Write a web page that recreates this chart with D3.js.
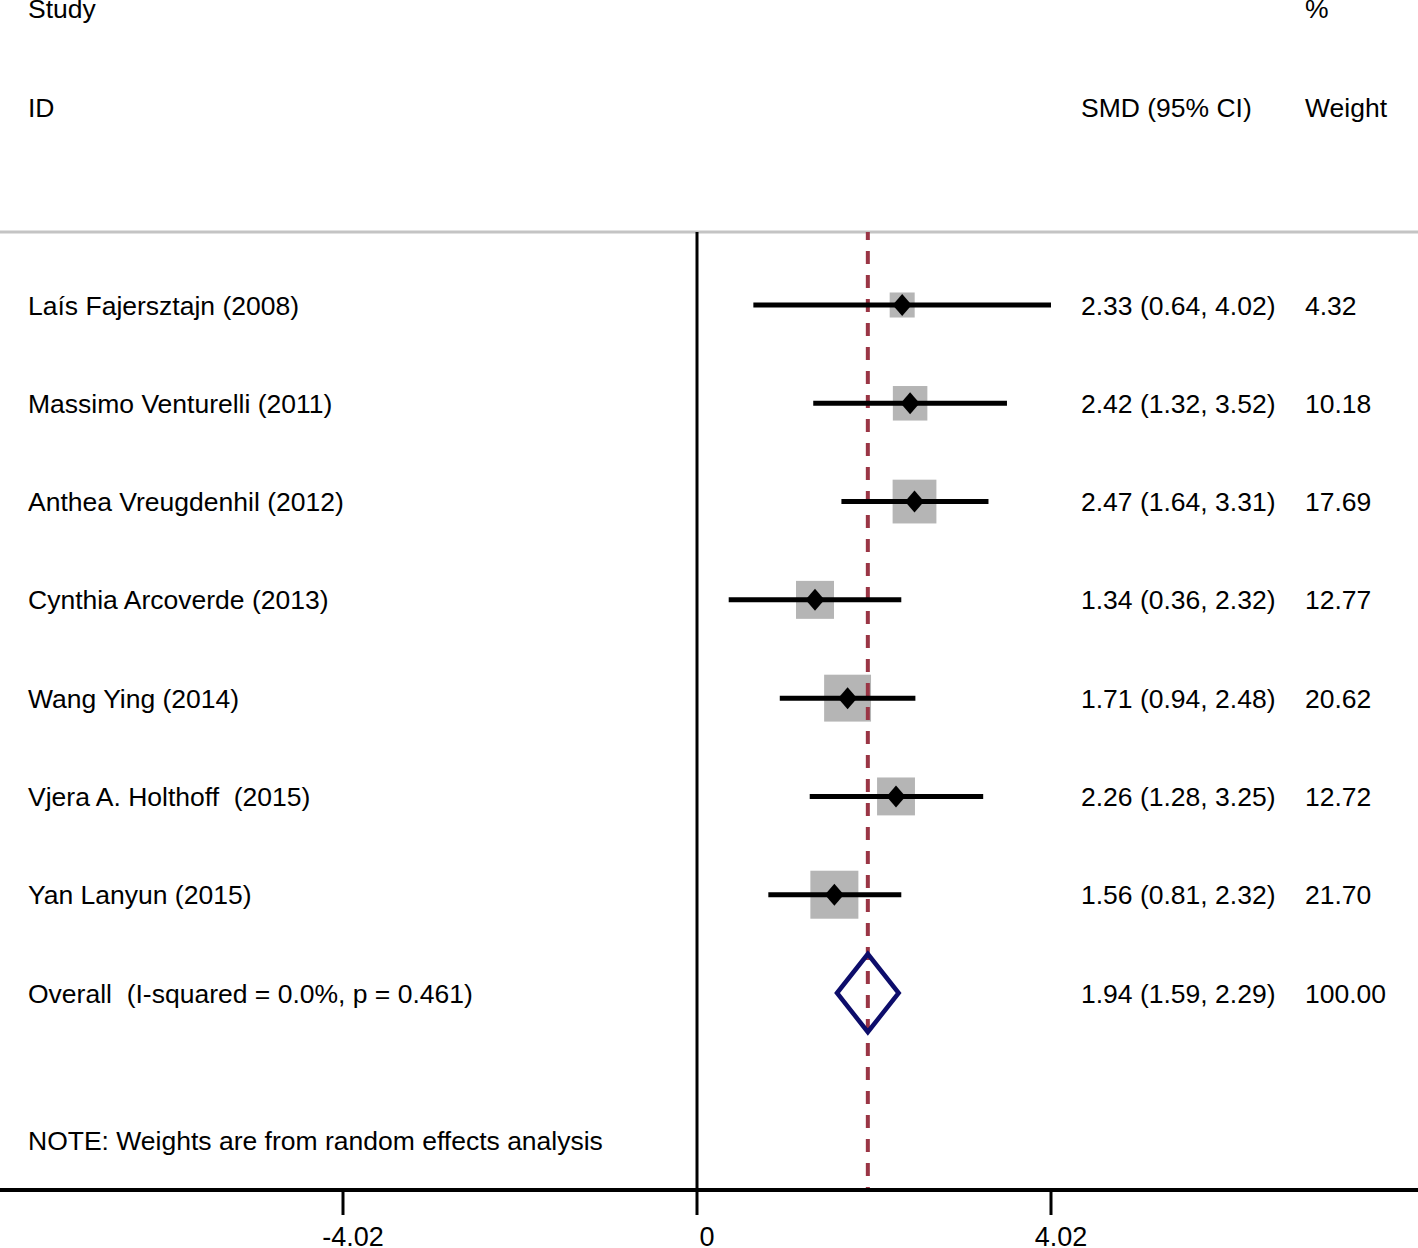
<!DOCTYPE html>
<html>
<head>
<meta charset="utf-8">
<script src="https://cdn.jsdelivr.net/npm/d3@7"></script>
<style>
  html, body { margin: 0; padding: 0; background: #fff; }
  svg text { font-family: "Liberation Sans", Arial, Helvetica, sans-serif; white-space: pre; fill: #000; }
</style>
</head>
<body>
<svg id="chart" width="1418" height="1248"></svg>
<script>
const studies = ["Laís Fajersztajn (2008)", "Massimo Venturelli (2011)", "Anthea Vreugdenhil (2012)",
  "Cynthia Arcoverde (2013)", "Wang Ying (2014)", "Vjera A. Holthoff  (2015)", "Yan Lanyun (2015)"];
const smd   = [2.33, 2.42, 2.47, 1.34, 1.71, 2.26, 1.56];
const lower = [0.64, 1.32, 1.64, 0.36, 0.94, 1.28, 0.81];
const upper = [4.02, 3.52, 3.31, 2.32, 2.48, 3.25, 2.32];
const weights = [4.32, 10.18, 17.69, 12.77, 20.62, 12.72, 21.70];
const overallLabel = "Overall  (I-squared = 0.0%, p = 0.461)";
const overall = {est: 1.94, lo: 1.59, hi: 2.29, w: 100.00};
const tickValues = [-4.02, 0, 4.02];
const tickLabels = ["-4.02", "0", "4.02"];
const headers = {study: "Study", id: "ID", ci: "SMD (95% CI)", pct: "%", weight: "Weight"};
const note = "NOTE: Weights are from random effects analysis";

const W = 1418, H = 1248;
const svg = d3.select("#chart");
const fs = 26.5;

const x = d3.scaleLinear().domain([-4.02, 4.02]).range([343, 1051]);
const y = d3.scaleLinear().domain([0, 7]).range([305, 993]);
const boxArea = d3.scaleLinear().domain([0, 100]).range([208, 9868]);
const fmt = d3.format(".2f");

const colText = 28, colCI = 1081, colW = 1305;
const topLine = 232, axisY = 1190;

// header
const hdr = svg.append("g");
hdr.append("text").attr("x", colText).attr("y", 18).attr("font-size", fs).text(headers.study);
hdr.append("text").attr("x", colText).attr("y", 117).attr("font-size", fs).text(headers.id);
hdr.append("text").attr("x", colCI).attr("y", 117).attr("font-size", fs).text(headers.ci);
hdr.append("text").attr("x", colW).attr("y", 18).attr("font-size", fs).text(headers.pct);
hdr.append("text").attr("x", colW).attr("y", 117).attr("font-size", fs).text(headers.weight);

// top gray line
svg.append("line").attr("x1", 0).attr("x2", W).attr("y1", topLine).attr("y2", topLine)
  .attr("stroke", "#c4c4c4").attr("stroke-width", 3);

// null line
svg.append("line").attr("x1", x(0)).attr("x2", x(0)).attr("y1", topLine).attr("y2", axisY)
  .attr("stroke", "#000").attr("stroke-width", 3);

const data = studies.map((s, i) => ({s, est: smd[i], lo: lower[i], hi: upper[i], w: weights[i], i}));

// boxes
svg.append("g").selectAll("rect").data(data).join("rect")
  .attr("x", d => x(d.est) - Math.sqrt(boxArea(d.w)) / 2)
  .attr("y", d => y(d.i) - Math.sqrt(boxArea(d.w)) / 2)
  .attr("width", d => Math.sqrt(boxArea(d.w)))
  .attr("height", d => Math.sqrt(boxArea(d.w)))
  .attr("fill", "#b5b5b5");

// overall dashed line
svg.append("line").attr("x1", x(overall.est)).attr("x2", x(overall.est))
  .attr("y1", topLine).attr("y2", axisY - 2)
  .attr("stroke", "#9a3545").attr("stroke-width", 4)
  .attr("stroke-dasharray", "13,11").attr("stroke-dashoffset", 5);

// CI lines
svg.append("g").selectAll("line").data(data).join("line")
  .attr("x1", d => x(d.lo)).attr("x2", d => x(d.hi))
  .attr("y1", d => y(d.i)).attr("y2", d => y(d.i))
  .attr("stroke", "#000").attr("stroke-width", 5);

// point diamonds
svg.append("g").selectAll("path").data(data).join("path")
  .attr("d", d => {
    const cx = x(d.est), cy = y(d.i), hw = 9.5, hh = 11;
    return `M${cx - hw},${cy}L${cx},${cy - hh}L${cx + hw},${cy}L${cx},${cy + hh}Z`;
  })
  .attr("fill", "#000");

// overall diamond
{
  const cy = y(7), hh = 39;
  svg.append("path")
    .attr("d", `M${x(overall.lo)},${cy}L${x(overall.est)},${cy - hh}L${x(overall.hi)},${cy}L${x(overall.est)},${cy + hh}Z`)
    .attr("fill", "none").attr("stroke", "#0d0d6b").attr("stroke-width", 4.5)
    .attr("stroke-linejoin", "miter");
}

// row texts
const rows = svg.append("g");
data.forEach(d => {
  const by = y(d.i) + 9.5;
  rows.append("text").attr("x", colText).attr("y", by).attr("font-size", fs).text(d.s);
  rows.append("text").attr("x", colCI).attr("y", by).attr("font-size", fs)
    .text(`${fmt(d.est)} (${fmt(d.lo)}, ${fmt(d.hi)})`);
  rows.append("text").attr("x", colW).attr("y", by).attr("font-size", fs).text(fmt(d.w));
});
{
  const by = y(7) + 9.5;
  rows.append("text").attr("x", colText).attr("y", by).attr("font-size", fs).text(overallLabel);
  rows.append("text").attr("x", colCI).attr("y", by).attr("font-size", fs)
    .text(`${fmt(overall.est)} (${fmt(overall.lo)}, ${fmt(overall.hi)})`);
  rows.append("text").attr("x", colW).attr("y", by).attr("font-size", fs).text(fmt(overall.w));
}

svg.append("text").attr("x", colText).attr("y", 1150).attr("font-size", fs).text(note);

// axis
svg.append("line").attr("x1", 0).attr("x2", W).attr("y1", axisY).attr("y2", axisY)
  .attr("stroke", "#000").attr("stroke-width", 4);
const ax = svg.append("g");
ax.selectAll("line").data(tickValues).join("line")
  .attr("x1", d => x(d)).attr("x2", d => x(d)).attr("y1", axisY).attr("y2", 1215)
  .attr("stroke", "#000").attr("stroke-width", 3);
ax.selectAll("text").data(tickValues).join("text")
  .attr("x", d => x(d) + 10).attr("y", 1246).attr("text-anchor", "middle").attr("font-size", 27)
  .text((d, i) => tickLabels[i]);
</script>
</body>
</html>
